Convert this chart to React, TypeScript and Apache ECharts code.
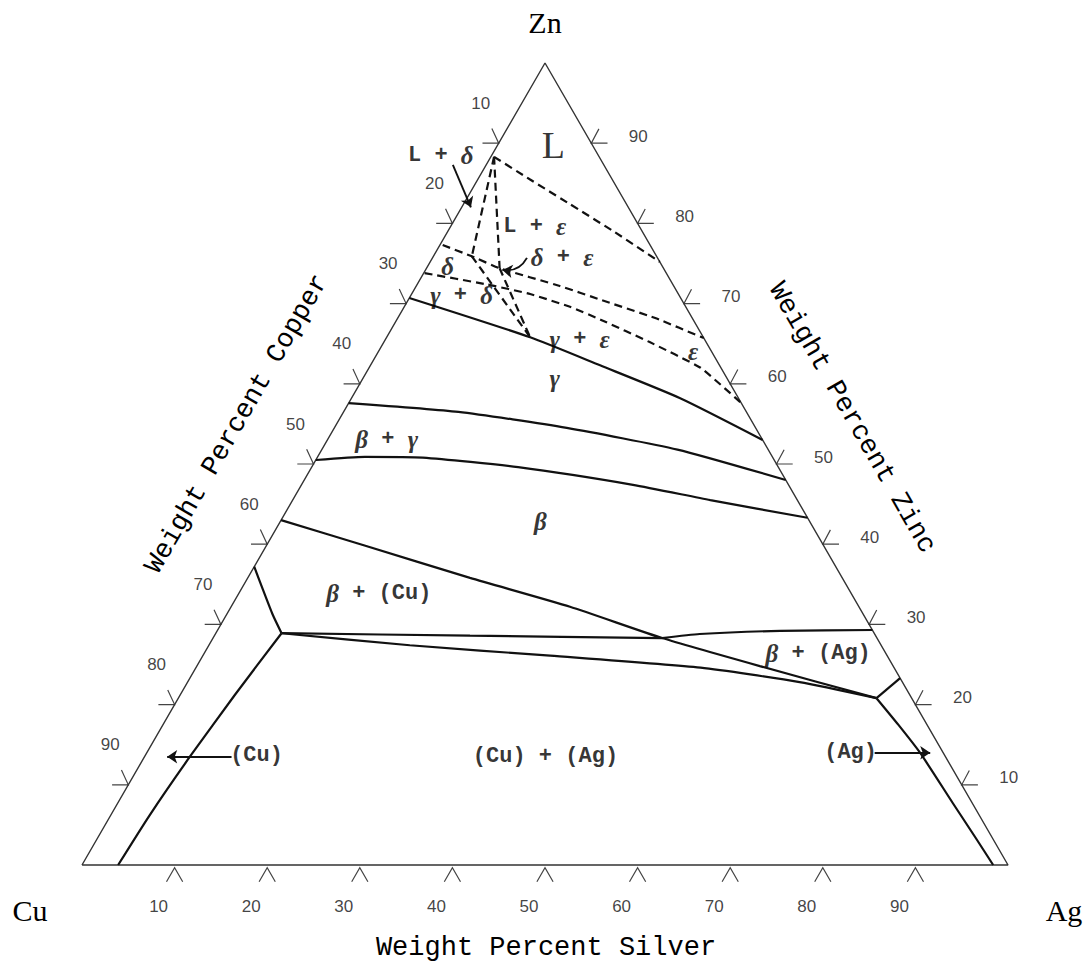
import React, { useEffect, useRef } from "react";
import * as echarts from "echarts";

// Compositions are [Ag wt%, Zn wt%] (Cu = remainder)
type P = [number, number];

const tickValues = [10, 20, 30, 40, 50, 60, 70, 80, 90];
const cornerNames = ["Cu", "Ag", "Zn"];
const axisTitles = ["Weight Percent Copper", "Weight Percent Silver", "Weight Percent Zinc"];

// ---- solid phase boundaries ----
const gammaUpper: P[] = [[0, 70.7], [15.5, 65.8], [24.8, 62.3], [35.5, 58.2], [47.0, 53.0]];
const gammaLower: P[] = [[0, 57.6], [12.4, 56.5], [25.1, 54.5], [38.4, 51.8], [52.0, 48.0]];
const betaUpper: P[] = [[0, 50.5], [5.1, 50.9], [11.4, 50.8], [22.3, 49.6], [35.8, 47.4], [45.1, 45.5], [56.7, 43.3]];
const betaCuBoundary: P[] = [[0, 43.0], [10.7, 39.8], [24.0, 35.8], [36.6, 32.2], [48.5, 28.3], [60.8, 24.8], [75.4, 20.8]];
const threePhaseTop: P[] = [[7.1, 28.9], [27.6, 28.6], [48.5, 28.3]];
const betaAgBoundary: P[] = [[48.5, 28.3], [52.3, 28.8], [60.8, 29.2], [70.7, 29.3]];
const cuAgTop: P[] = [[7.1, 28.9], [21.7, 27.4], [37.5, 26.1], [54.5, 24.6], [66.1, 22.8], [75.4, 20.8]];
const cuSolvusUpper: P[] = [[0, 37.2], [2.4, 34.3], [5.0, 31.2], [7.1, 28.9]];
const cuSolvusLower: P[] = [[7.1, 28.9], [5.9, 21.2], [4.9, 13.5], [4.2, 6.2], [3.9, 0]];
const agSolvusUpper: P[] = [[76.7, 23.3], [75.4, 20.8]];
const agSolvusLower: P[] = [[75.4, 20.8], [79.4, 17.5], [83.5, 14.0], [90.2, 7.7], [94.8, 3.4], [98.4, 0]];

// ---- dashed (uncertain) boundaries ----
const liquidus: P[] = [[0.35, 88.3], [5.6, 85.5], [11.5, 82.4], [18.1, 78.9], [24.8, 75.2]];
const tieLiquidDelta: P[] = [[0.35, 88.3], [4.15, 75.9]];
const tieLiquidEps: P[] = [[0.35, 88.3], [7.9, 74.4]];
const deltaEpsBoundary: P[] = [[0.3, 77.3], [4.15, 75.9], [7.9, 74.4], [15.5, 72.2], [20.7, 70.5], [27.8, 68.2], [34.3, 65.7]];
const gammaDeltaEpsBoundary: P[] = [[0.1, 73.8], [7.5, 72.4], [12.8, 71.2], [17.9, 69.6], [22.0, 68.0], [28.7, 65.2], [35.8, 62.0], [42.4, 57.6]];
const tieDeltaGamma: P[] = [[4.15, 75.9], [15.5, 65.8]];
const tieEpsGamma: P[] = [[7.9, 74.4], [15.5, 65.8]];

// ---- arrows ----
const arrowLDelta: P[] = [[-3.6, 87.3], [1.0, 82.0]];
const arrowDeltaEps: P[] = [[10.2, 75.7], [8.3, 74.2]];
const arrowCu: P[] = [[9.4, 13.5], [2.45, 13.5]];
const arrowAg: P[] = [[78.6, 14.0], [84.6, 14.0]];

// ---- region labels ----
const regionNames = ["L + δ", "L + ε", "δ + ε", "δ", "γ + δ", "γ + ε", "ε", "γ", "β + γ", "β", "β + (Cu)", "β + (Ag)", "(Cu)", "(Cu) + (Ag)", "(Ag)"];
const regionPos: P[] = [[-5.5, 88.5], [9.1, 79.6], [14.0, 75.7], [2.2, 74.6], [5.5, 71.0], [21.0, 65.5], [34.0, 64.0], [20.7, 60.7], [6.4, 53.0], [28.1, 42.8], [15.1, 33.9], [66.3, 26.4], [12.0, 13.7], [43.3, 13.5], [76.0, 14.0]];
const liquidName = "L";
const liquidPos: P = [6.0, 89.8];

const SQ = Math.sqrt(3) / 2;
const toXY = (p: P): [number, number] => [p[0] + p[1] / 2, p[1] * SQ];

const solid = (d: P[]) => ({
  type: "line", data: d.map(toXY), symbol: "none", smooth: 0.2, silent: true, clip: false, z: 4,
  lineStyle: { color: "#111", width: 2.2 },
});
const dashed = (d: P[]) => ({
  type: "line", data: d.map(toXY), symbol: "none", smooth: 0.12, silent: true, clip: false, z: 4,
  lineStyle: { color: "#111", width: 2.2, type: [8, 5] },
});
const arrow = (d: P[], curveness = 0) => ({
  type: "lines", coordinateSystem: "cartesian2d", silent: true, clip: false, z: 5,
  symbol: ["none", "arrow"], symbolSize: 10,
  lineStyle: { color: "#111", width: 1.9, curveness, opacity: 1 },
  data: [{ coords: d.map(toXY) }],
});

const ARM = 1.75;
const ang = (deg: number) => [ARM * Math.cos((deg * Math.PI) / 180), ARM * Math.sin((deg * Math.PI) / 180)];
const tickShape = (pt: [number, number], a1: number, a2: number) => {
  const [dx1, dy1] = ang(a1);
  const [dx2, dy2] = ang(a2);
  return { coords: [[pt[0] + dx1, pt[1] + dy1], pt, [pt[0] + dx2, pt[1] + dy2]] };
};
const bottomTicks = tickValues.map((v) => { const p = toXY([v, 0]); return tickShape([p[0], p[1] - 0.3], 240, 300); });
const leftTicks = tickValues.map((v) => tickShape(toXY([0, 100 - v]), 115, 180));
const rightTicks = tickValues.map((v) => tickShape(toXY([100 - v, v]), 0, 62));

const hidden = { color: "rgba(0,0,0,0)" };

const tickLabelSeries = (pts: [number, number][], offset: [number, number]) => ({
  type: "scatter", symbolSize: 2, silent: true, clip: false, z: 6,
  itemStyle: hidden,
  label: {
    show: true, position: "inside", offset, formatter: "{b}",
    fontFamily: "Liberation Sans", fontSize: 17, color: "#111",
  },
  data: tickValues.map((v, i) => ({ name: String(v), value: pts[i] })),
});

export default function App() {
  const ref = useRef<HTMLDivElement>(null);
  useEffect(() => {
    if (!ref.current) return;
    const chart = echarts.init(ref.current, null, { renderer: "svg" });
    const titleFont = '27px "Liberation Mono"';
    const cornerFont = '30px "Liberation Serif"';
    const text = (t: string, x: number, y: number, font: string, rotation = 0) => ({
      type: "text", x, y, rotation, silent: true,
      style: { text: t, font, fill: "#000", textAlign: "center", textVerticalAlign: "middle", align: "center", verticalAlign: "middle" },
    });
    const option: any = {
      animation: false,
      backgroundColor: "#fff",
      grid: { left: 82, top: 63, width: 926, height: 802, containLabel: false },
      xAxis: { type: "value", min: 0, max: 100, show: false },
      yAxis: { type: "value", min: 0, max: 100 * SQ, show: false },
      series: [
        {
          type: "line", symbol: "none", silent: true, clip: false, z: 3,
          lineStyle: { color: "#333", width: 1.4 },
          data: [toXY([0, 0]), toXY([100, 0]), toXY([0, 100]), toXY([0, 0])],
        },
        solid(gammaUpper), solid(gammaLower), solid(betaUpper), solid(betaCuBoundary),
        solid(threePhaseTop), solid(betaAgBoundary), solid(cuAgTop),
        solid(cuSolvusUpper), solid(cuSolvusLower), solid(agSolvusUpper), solid(agSolvusLower),
        dashed(liquidus), dashed(tieLiquidDelta), dashed(tieLiquidEps), dashed(deltaEpsBoundary),
        dashed(gammaDeltaEpsBoundary), dashed(tieDeltaGamma), dashed(tieEpsGamma),
        arrow(arrowLDelta), arrow(arrowDeltaEps, 0.35), arrow(arrowCu), arrow(arrowAg),
        {
          type: "lines", coordinateSystem: "cartesian2d", polyline: true, silent: true, clip: false, z: 3,
          lineStyle: { color: "#444", width: 1.2, opacity: 1 },
          data: [...bottomTicks, ...leftTicks, ...rightTicks],
        },
        tickLabelSeries(tickValues.map((v) => toXY([v, 0])), [-16, 41]),
        tickLabelSeries(tickValues.map((v) => toXY([0, 100 - v])), [-18, -40]),
        tickLabelSeries(tickValues.map((v) => toXY([100 - v, v])), [47, -7]),
        {
          type: "scatter", symbolSize: 2, silent: true, clip: false, z: 6,
          itemStyle: hidden,
          label: {
            show: true, position: "inside",
            formatter: (p: any) => String(p.name).replace(/([βγδε])/g, "{g|$1}"),
            fontFamily: "Liberation Mono", fontWeight: "bold", fontSize: 22, color: "#000",
            rich: {
              g: { fontFamily: "Liberation Serif", fontStyle: "italic", fontWeight: "bold", fontSize: 25, color: "#000" },
            },
          },
          data: regionNames.map((n, i) => ({ name: n, value: toXY(regionPos[i]) })),
        },
        {
          type: "scatter", symbolSize: 2, silent: true, clip: false, z: 6,
          itemStyle: hidden,
          label: {
            show: true, position: "inside", formatter: "{b}",
            fontFamily: "Liberation Serif", fontSize: 38, color: "#000",
          },
          data: [{ name: liquidName, value: toXY(liquidPos) }],
        },
      ],
      graphic: [
        text(cornerNames[2], 545, 22, cornerFont),
        text(cornerNames[0], 30, 910, cornerFont),
        text(cornerNames[1], 1064, 910, cornerFont),
        text(axisTitles[1], 546, 948, titleFont),
        text(axisTitles[0], 237, 424, titleFont, Math.PI / 3),
        text(axisTitles[2], 852, 418, titleFont, -Math.PI / 3),
      ],
    };
    chart.setOption(option);
    return () => chart.dispose();
  }, []);
  return (
    <div
      ref={ref}
      style={{ position: "absolute", left: 0, top: 0, width: 1086, height: 972, background: "#fff" }}
    />
  );
}
